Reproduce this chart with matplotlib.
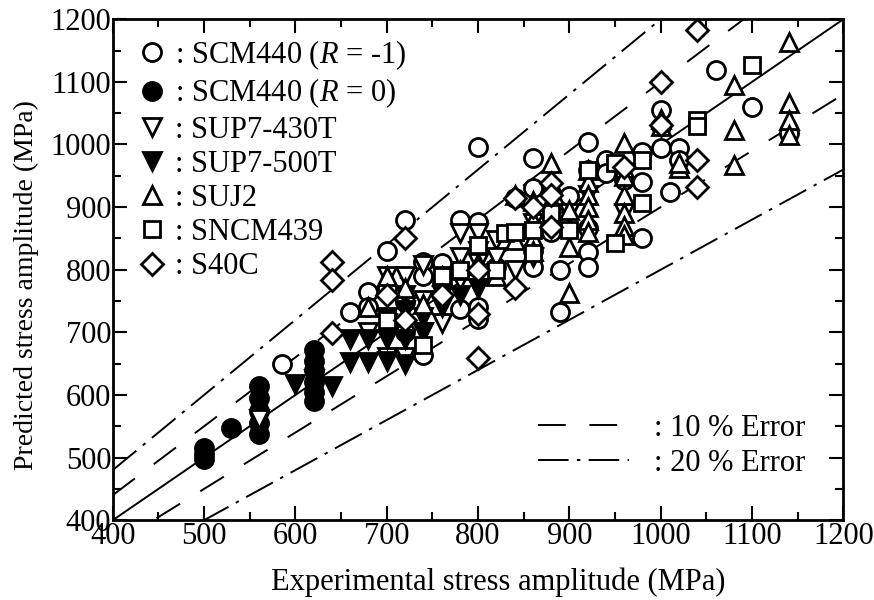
import matplotlib
matplotlib.use("Agg")
import matplotlib.pyplot as plt
from matplotlib.ticker import MultipleLocator
from matplotlib.lines import Line2D

plt.rcParams['font.family'] = ['Liberation Serif', 'DejaVu Serif']
plt.rcParams['mathtext.fontset'] = 'custom'
plt.rcParams['mathtext.rm'] = 'Liberation Serif'
plt.rcParams['mathtext.it'] = 'Liberation Serif:italic'
plt.rcParams['lines.scale_dashes'] = False

# SCM440 (R = -1)
scm_m1_x = [585, 660, 680, 680, 700, 700, 720, 720, 720, 740, 740, 740, 760, 760, 780, 780, 780,
            800, 800, 800, 800, 820, 840, 860, 860, 860, 860, 880, 890, 890, 900, 920, 920, 920,
            920, 920, 940, 940, 960, 980, 980, 980, 1000, 1000, 1000, 1010, 1020, 1020, 1060, 1100, 1140]
scm_m1_y = [650, 733, 765, 740, 830, 770, 880, 748, 700, 812, 663, 790, 778, 810, 738, 879, 800,
            996, 876, 722, 740, 805, 915, 978, 930, 805, 830, 860, 732, 800, 918, 1004, 866, 828,
            804, 960, 975, 955, 943, 940, 850, 988, 1055, 994, 1030, 924, 994, 975, 1119, 1060, 1018]
# SCM440 (R = 0)
scm_0_x = [500, 500, 500, 530, 560, 560, 560, 560, 560, 620, 620, 620, 620, 620, 620]
scm_0_y = [498, 506, 515, 547, 615, 595, 575, 555, 538, 590, 605, 620, 640, 655, 672]
# SUP7-430T
sup430_x = [560, 680, 700, 700, 700, 720, 720, 740, 740, 740, 760, 760, 780, 780, 780, 800, 800,
            800, 800, 800, 820, 820, 840, 840, 860, 860, 860, 880, 900, 920, 960]
sup430_y = [562, 700, 715, 660, 790, 790, 660, 808, 752, 700, 715, 790, 858, 820, 783, 858, 830,
            810, 790, 770, 847, 820, 850, 800, 820, 850, 875, 870, 890, 920, 890]
# SUP7-500T
sup500_x = [600, 620, 640, 660, 660, 680, 680, 700, 700, 700, 720, 720, 720, 740, 740, 760, 760,
            780, 800, 720]
sup500_y = [618, 625, 615, 652, 690, 652, 690, 655, 690, 725, 650, 690, 735, 700, 725, 740, 760,
            760, 770, 760]
# SUJ2
suj2_x = [680, 700, 720, 740, 760, 780, 800, 820, 840, 840, 860, 860, 860, 860, 880, 880, 900,
          900, 900, 920, 920, 920, 920, 920, 920, 960, 960, 960, 960, 960, 960, 1000, 1000, 1020,
          1020, 1080, 1080, 1080, 1140, 1140, 1140, 1140, 960, 880]
suj2_y = [740, 790, 770, 745, 790, 800, 810, 790, 920, 847, 910, 880, 850, 830, 970, 911, 895,
          836, 762, 959, 940, 920, 900, 880, 860, 1002, 962, 950, 920, 890, 870, 1040, 1030, 962,
          970, 1095, 1023, 967, 1163, 1066, 1039, 1015, 855, 940]
# SNCM439
sncm_x = [700, 740, 760, 780, 800, 820, 830, 860, 860, 900, 920, 950, 950, 980, 980, 1040, 1040,
          1100, 840, 880]
sncm_y = [720, 680, 790, 800, 840, 800, 858, 863, 826, 863, 960, 970, 842, 975, 906, 1039, 1030,
          1127, 860, 890]
# S40C
s40c_x = [640, 640, 640, 720, 720, 760, 800, 800, 840, 840, 860, 880, 880, 880, 960, 1000, 1000,
          1040, 1040, 1040, 800, 700]
s40c_y = [812, 783, 699, 850, 720, 760, 659, 730, 770, 915, 900, 938, 868, 920, 964, 1100, 1031,
          1182, 975, 932, 800, 760]

fig = plt.figure(figsize=(8.74, 6.0), dpi=100)
ax = fig.add_axes([0.129, 0.133, 0.836, 0.835])

# reference lines
ref = [400, 1200]
dash = (0, (20, 17))
dashdot = (0, (22, 6, 2.5, 6))
ax.plot(ref, [v for v in ref], color='k', lw=1.4)
ax.plot(ref, [1.1 * v for v in ref], color='k', lw=1.4, ls=dash)
ax.plot(ref, [0.9 * v for v in ref], color='k', lw=1.4, ls=dash)
ax.plot(ref, [1.2 * v for v in ref], color='k', lw=1.4, ls=dashdot)
ax.plot(ref, [0.8 * v for v in ref], color='k', lw=1.4, ls=dashdot)

ms = 13
mew = 2
h1, = ax.plot(scm_m1_x, scm_m1_y, 'o', mfc='white', mec='k', ms=ms, mew=mew, ls='none')
h2, = ax.plot(scm_0_x, scm_0_y, 'o', mfc='k', mec='k', ms=ms, mew=mew, ls='none')
h3, = ax.plot(sup430_x, sup430_y, 'v', mfc='white', mec='k', ms=ms, mew=mew, ls='none')
h4, = ax.plot(sup500_x, sup500_y, 'v', mfc='k', mec='k', ms=ms, mew=mew, ls='none')
h5, = ax.plot(suj2_x, suj2_y, '^', mfc='white', mec='k', ms=ms, mew=mew, ls='none')
h6, = ax.plot(sncm_x, sncm_y, 's', mfc='white', mec='k', ms=11, mew=mew, ls='none')
h7, = ax.plot(s40c_x, s40c_y, 'D', mfc='white', mec='k', ms=11, mew=mew, ls='none')

ax.set_xlim(400, 1200)
ax.set_ylim(400, 1200)
ax.xaxis.set_major_locator(MultipleLocator(100))
ax.xaxis.set_minor_locator(MultipleLocator(50))
ax.yaxis.set_major_locator(MultipleLocator(100))
ax.yaxis.set_minor_locator(MultipleLocator(50))
ax.tick_params(which='both', direction='in', top=True, right=True, width=1.5, labelsize=22)
ax.tick_params(which='major', length=10, pad=1)
ax.tick_params(which='minor', length=6)
for s in ax.spines.values():
    s.set_linewidth(2)

ax.set_xlabel('Experimental stress amplitude (MPa)', fontsize=22, labelpad=12, x=0.527)
ax.set_ylabel('Predicted stress amplitude (MPa)', fontsize=20, labelpad=8, y=0.47)

leg1 = ax.legend([h1, h2, h3, h4, h5, h6, h7],
                 [r': SCM440 ($R$ = -1)', r': SCM440 ($R$ = 0)', ': SUP7-430T', ': SUP7-500T',
                  ': SUJ2', ': SNCM439', ': S40C'],
                 loc='upper left', frameon=False, fontsize=22, handlelength=1.0,
                 handletextpad=0.25, labelspacing=0.17, borderaxespad=0.3,
                 bbox_to_anchor=(0.003, 1.005))
ax.add_artist(leg1)

e1 = Line2D([], [], color='k', lw=1.4, ls=dash)
e2 = Line2D([], [], color='k', lw=1.4, ls=dashdot)
ax.legend([e1, e2], [': 10 % Error', ': 20 % Error'], loc='lower right', frameon=False,
          fontsize=22, handlelength=3.0, handletextpad=0.8, labelspacing=0.2,
          bbox_to_anchor=(0.985, 0.03))

fig.savefig('out.png', dpi=100)
